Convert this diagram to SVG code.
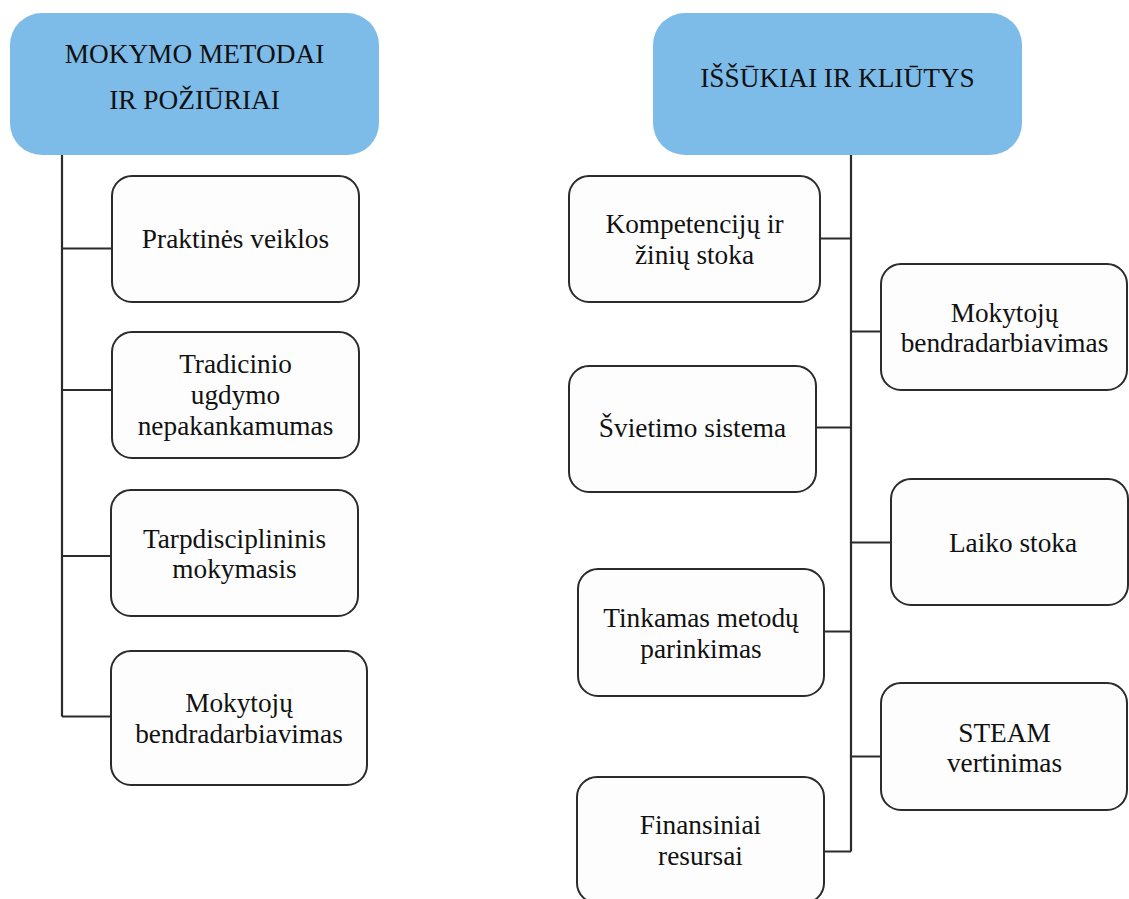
<svg xmlns="http://www.w3.org/2000/svg" width="1129" height="899" viewBox="0 0 1129 899">
<style>
.hdr{fill:#7dbbe8;stroke:none}
.box{fill:#fdfdfd;stroke:#2b2b2b;stroke-width:2}
.ln{fill:none;stroke:#2b2b2b;stroke-width:2.2}
text{font-family:"Liberation Serif","Times New Roman",serif;font-size:27.3px;fill:#111;text-anchor:middle}
</style>
<rect width="1129" height="899" fill="#ffffff"/>
<g id="connectors">
<path class="ln" d="M62 155V716.5M62 248.5H112M62 390H112M62 556H111M62 716.5H111"/>
<path class="ln" d="M851 155V851.5M820 238.5H851M851 331.5H881M816 427.5H851M851 542.5H891M824 631.5H851M851 756.5H881M824 851.5H851"/>
</g>
<g id="hdr-left">
<rect class="hdr" x="10" y="13" width="369" height="142" rx="32"/>
<text x="194.5" y="63">MOKYMO METODAI</text>
<text x="194.5" y="109">IR POŽIŪRIAI</text>
</g>
<g id="hdr-right">
<rect class="hdr" x="653" y="13" width="369" height="142" rx="32"/>
<text x="837.5" y="87">IŠŠŪKIAI IR KLIŪTYS</text>
</g>
<g id="l1">
<rect class="box" x="112" y="176" width="247" height="126" rx="20"/>
<text x="235.5" y="248">Praktinės veiklos</text>
</g>
<g id="l2">
<rect class="box" x="112" y="332" width="247" height="126" rx="20"/>
<text x="235.5" y="372.5">Tradicinio</text>
<text x="235.5" y="403.5">ugdymo</text>
<text x="235.5" y="435">nepakankamumas</text>
</g>
<g id="l3">
<rect class="box" x="111" y="490" width="247" height="126" rx="20"/>
<text x="234.5" y="548">Tarpdisciplininis</text>
<text x="234.5" y="578">mokymasis</text>
</g>
<g id="l4">
<rect class="box" x="111" y="651" width="256" height="134" rx="20"/>
<text x="239" y="712">Mokytojų</text>
<text x="239" y="743">bendradarbiavimas</text>
</g>
<g id="r1">
<rect class="box" x="569" y="176" width="251" height="126" rx="20"/>
<text x="694.5" y="233">Kompetencijų ir</text>
<text x="694.5" y="264">žinių stoka</text>
</g>
<g id="r2">
<rect class="box" x="881" y="264" width="246" height="126" rx="20"/>
<text x="1004.5" y="321.5">Mokytojų</text>
<text x="1004.5" y="352">bendradarbiavimas</text>
</g>
<g id="r3">
<rect class="box" x="569" y="366" width="247" height="126" rx="20"/>
<text x="692.5" y="437">Švietimo sistema</text>
</g>
<g id="r4">
<rect class="box" x="891" y="479" width="237" height="126" rx="20"/>
<text x="1013" y="552">Laiko stoka</text>
</g>
<g id="r5">
<rect class="box" x="578" y="569" width="246" height="127" rx="20"/>
<text x="701" y="626.5">Tinkamas metodų</text>
<text x="701" y="658">parinkimas</text>
</g>
<g id="r6">
<rect class="box" x="881" y="683" width="246" height="127" rx="20"/>
<text x="1004.5" y="741.5">STEAM</text>
<text x="1004.5" y="772">vertinimas</text>
</g>
<g id="r7">
<rect class="box" x="577" y="777" width="247" height="126" rx="20"/>
<text x="700.5" y="833.5">Finansiniai</text>
<text x="700.5" y="865">resursai</text>
</g>
</svg>
